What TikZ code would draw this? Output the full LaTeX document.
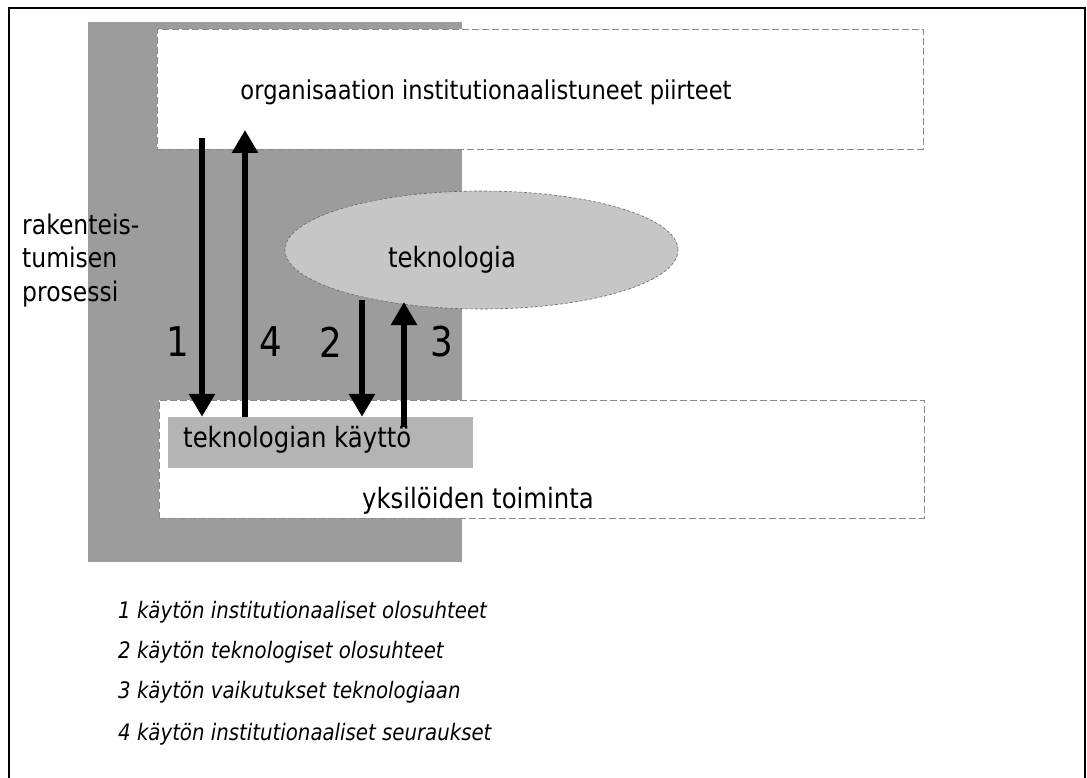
\documentclass[tikz,border=0pt]{standalone}
\usepackage{fontspec}
\setmainfont{DejaVu Sans}[FakeStretch=0.87]
\usetikzlibrary{arrows.meta,shapes.geometric}
\definecolor{grayA}{HTML}{9C9C9C}
\definecolor{grayB}{HTML}{C6C6C6}
\definecolor{grayC}{HTML}{B4B4B4}
\definecolor{edgeC}{HTML}{8A8A8A}
\begin{document}
\begin{tikzpicture}[x=1pt,y=-1pt,
  bgbox/.style={fill=grayA, draw=none, inner sep=0pt, minimum width=374pt, minimum height=540pt},
  wbox/.style={fill=white, draw=edgeC, line width=0.6pt, dash pattern=on 7pt off 3pt, inner sep=0pt},
  kbox/.style={fill=grayC, draw=none, inner sep=0pt, minimum width=305pt, minimum height=51pt},
  ellbox/.style={ellipse, fill=grayB, draw=black!60, line width=0.6pt, dash pattern=on 3pt off 2pt, inner sep=0pt, minimum width=393pt, minimum height=118pt},
  txt/.style={inner sep=0pt, font=\fontsize{28}{34}\selectfont},
  side/.style={inner sep=0pt, anchor=base west, font=\fontsize{27}{33}\selectfont},
  num/.style={inner sep=0pt, font=\fontsize{41}{48}\selectfont},
  leg/.style={inner sep=0pt, anchor=base west, font=\fontsize{22.7}{27}\selectfont\itshape},
  arr/.style={line width=6pt, -{Triangle[length=23pt,width=25pt]}}
]
\useasboundingbox (0,0) rectangle (1087,778);
\fill[white] (0,0) rectangle (1087,778);
\draw[line width=2pt] (9,778) -- (9,8) -- (1085,8) -- (1085,778);

% background structure
\node[bgbox] (bg) at (275,292) {};
\node[wbox, minimum width=766pt, minimum height=120pt] (org) at (540,89) {};
\node[wbox, minimum width=765pt, minimum height=118pt] (ind) at (541.5,459) {};
\node[ellbox] (tek) at (481.5,250) {};
\node[kbox] (kay) at (320.5,442.5) {};

% texts
\node[txt, anchor=base, font=\fontsize{26}{32}\selectfont] (orgT) at (486,100) {organisaation institutionaalistuneet piirteet};
\node[side] (r1) at (22,235) {rakenteis-};
\node[side] (r2) at (22,268) {tumisen};
\node[side] (r3) at (22,301) {prosessi};
\node[txt, anchor=base] (tekT) at (452,267) {teknologia};
\node[txt, anchor=base west] (kayT) at (183,447) {teknologian käyttö};
\node[txt, anchor=base] (indT) at (478,508) {yksilöiden toiminta};

\node[num] (n1) at (178,342) {1};
\node[num] (n4) at (271,342) {4};
\node[num] (n2) at (331,342) {2};
\node[num] (n3) at (442,342) {3};

% arrows
\coordinate (a1) at (202,138);
\coordinate (a4) at (245,130);
\coordinate (a2) at (362,300);
\coordinate (a3) at (404,302);
\coordinate (a3b) at (404,427);
\draw[arr] (a1) -- (a1 |- kay.north);
\draw[arr] (a4 |- kay.north) -- (a4);
\draw[arr] (a2) -- (a2 |- kay.north);
\draw[arr] (a3b) -- (a3);

% legend
\node[leg] (l1) at (118,618) {1 käytön institutionaaliset olosuhteet};
\node[leg] (l2) at (118,658) {2 käytön teknologiset olosuhteet};
\node[leg] (l3) at (118,698) {3 käytön vaikutukset teknologiaan};
\node[leg] (l4) at (118,740) {4 käytön institutionaaliset seuraukset};
\end{tikzpicture}
\end{document}
